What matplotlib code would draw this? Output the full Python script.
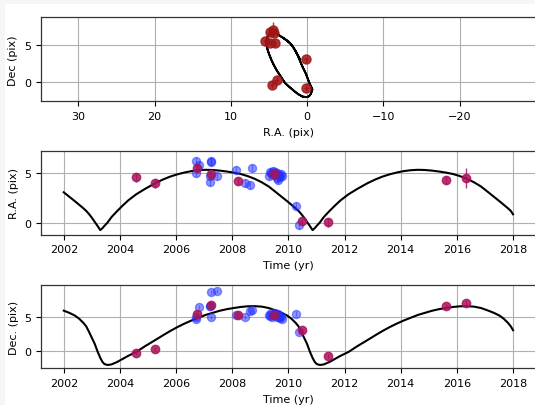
import matplotlib
matplotlib.use("Agg")
import matplotlib.pyplot as plt
from matplotlib.patches import Rectangle

# ---------------- model curve ----------------
model_t = [2002.00, 2002.20, 2002.40, 2002.55, 2002.70, 2002.80, 2002.90, 2003.00, 2003.10, 2003.20,
           2003.30, 2003.38, 2003.45, 2003.56, 2003.70, 2003.90, 2004.10, 2004.30, 2004.58, 2004.90,
           2005.25, 2005.55, 2005.80, 2006.05, 2006.30, 2006.55, 2006.80, 2007.05, 2007.30, 2007.55,
           2007.80, 2008.05, 2008.30, 2008.55, 2008.80, 2009.05, 2009.30,
           2009.56, 2009.76, 2009.96, 2010.11, 2010.26, 2010.36, 2010.46, 2010.56, 2010.66, 2010.76,
           2010.86, 2010.94, 2011.01, 2011.12, 2011.26, 2011.46, 2011.66, 2011.86, 2012.14, 2012.46,
           2012.81, 2013.11, 2013.36, 2013.61, 2013.86, 2014.11, 2014.36, 2014.61, 2014.86, 2015.11,
           2015.36, 2015.61, 2015.86, 2016.11, 2016.36, 2016.61, 2016.86,
           2017.12, 2017.32, 2017.52, 2017.67, 2017.82, 2017.92, 2018.00]
model_ra = [3.10, 2.65, 2.20, 1.85, 1.50, 1.24, 0.92, 0.56, 0.15, -0.25,
            -0.68, -0.48, -0.25, 0.08, 0.62, 1.22, 1.78, 2.30, 2.90, 3.45,
            4.00, 4.40, 4.68, 4.90, 5.08, 5.22, 5.31, 5.35, 5.33, 5.27,
            5.18, 5.07, 4.93, 4.72, 4.45, 4.10, 3.68,
            3.10, 2.65, 2.20, 1.85, 1.50, 1.24, 0.92, 0.56, 0.15, -0.25,
            -0.68, -0.48, -0.25, 0.08, 0.62, 1.22, 1.78, 2.30, 2.90, 3.45,
            4.00, 4.40, 4.68, 4.90, 5.08, 5.22, 5.31, 5.35, 5.33, 5.27,
            5.18, 5.07, 4.93, 4.72, 4.45, 4.10, 3.68,
            3.10, 2.65, 2.20, 1.85, 1.50, 1.24, 0.90]
model_dec = [5.87, 5.55, 5.15, 4.70, 4.10, 3.60, 2.80, 1.95, 1.10, 0.00,
             -0.95, -1.55, -1.85, -1.98, -1.90, -1.55, -1.10, -0.65, -0.10, 0.75,
             1.60, 2.35, 2.95, 3.50, 4.00, 4.45, 4.85, 5.25, 5.55, 5.85,
             6.08, 6.25, 6.40, 6.50, 6.52, 6.45, 6.25,
             5.87, 5.55, 5.15, 4.70, 4.10, 3.60, 2.80, 1.95, 1.10, 0.00,
             -0.95, -1.55, -1.85, -1.98, -1.90, -1.55, -1.10, -0.65, -0.10, 0.75,
             1.60, 2.35, 2.95, 3.50, 4.00, 4.45, 4.85, 5.25, 5.55, 5.85,
             6.08, 6.25, 6.40, 6.50, 6.52, 6.45, 6.25,
             5.87, 5.55, 5.15, 4.70, 4.10, 3.60, 3.05]

# ---------------- observations: set A (red / magenta) ----------------
a_t = [2004.58, 2005.25, 2006.76, 2007.24, 2008.20, 2009.49, 2010.47, 2011.40, 2015.60, 2016.33]
a_ra = [4.60, 4.00, 5.50, 4.90, 4.20, 4.90, 0.20, 0.10, 4.30, 4.50]
a_dec = [-0.30, 0.30, 5.45, 6.65, 5.25, 5.25, 3.05, -0.70, 6.55, 7.00]
a_ra_err = [0.45, 0.45, 0.35, 0.40, 0.40, 0.30, 0.35, 0.45, 0.40, 1.00]
a_dec_err = [0.30, 0.30, 0.30, 0.35, 0.30, 0.30, 0.30, 0.30, 0.30, 0.35]

# ---------------- observations: set B (blue) ----------------
b_t = [2006.70, 2006.72, 2006.80, 2007.20, 2007.22, 2007.24, 2007.26, 2007.46, 2008.15, 2008.47,
       2008.62, 2008.72, 2009.30, 2009.34, 2009.38, 2009.42, 2009.46, 2009.50, 2009.54, 2009.58,
       2009.61, 2009.64, 2009.67, 2009.70, 2009.73, 2009.76, 2010.27, 2010.36]
b_ra = [5.00, 6.25, 5.80, 4.15, 4.75, 6.25, 6.10, 4.75, 5.30, 4.05,
        3.80, 5.50, 4.70, 5.15, 5.05, 4.90, 5.25, 4.80, 5.10, 4.55,
        5.00, 4.35, 4.85, 4.65, 4.90, 4.75, 1.70, -0.15]
b_dec = [4.70, 5.00, 6.45, 6.50, 6.60, 8.50, 5.00, 8.65, 5.20, 5.00,
         5.75, 6.00, 5.30, 5.10, 5.50, 4.95, 5.40, 5.20, 5.60, 4.90,
         5.30, 5.45, 5.00, 4.80, 5.15, 4.70, 5.45, 2.85]
b_ra_err = [0.40] * len(b_t)
b_dec_err = [0.30] * len(b_t)

years = [2002, 2004, 2006, 2008, 2010, 2012, 2014, 2016, 2018]
sky_xticks = [30, 20, 10, 0, -10, -20]
y_ticks = [0, 5]

col_sky = "#a01515"
col_a = "#a8145a"
col_b = "#2030ff"

plt.rcParams["font.family"] = "DejaVu Sans"
plt.rcParams["font.size"] = 8

W, H = 535, 406
fig = plt.figure(figsize=(W / 100, H / 100), dpi=100, facecolor="#f6f6f6")
fig.patches.append(Rectangle((5 / W, 0), 1, (H - 5) / H, transform=fig.transFigure,
                             facecolor="white", edgecolor="none", zorder=-10))

def px_axes(left, top, right, bottom):
    return fig.add_axes([left / W, 1 - bottom / H, (right - left) / W, (bottom - top) / H])

ax1 = px_axes(40.7, 18.3, 535.5, 102.3)
ax2 = px_axes(41.3, 152.3, 535.5, 235.7)
ax3 = px_axes(41.3, 285.7, 535.5, 369.3)

for ax in (ax1, ax2, ax3):
    ax.grid(True, color="#b0b0b0", lw=0.8)
    ax.set_axisbelow(True)
    ax.tick_params(length=3.5, width=0.8, labelsize=8)
    for s in ax.spines.values():
        s.set_color("#333333")
        s.set_linewidth(0.9)

# sky plot
ax1.plot(model_ra, model_dec, color="black", lw=1.4)
ax1.errorbar(a_ra, a_dec, yerr=a_ra_err, xerr=a_dec_err, fmt="o", ms=6.5, color=col_sky,
             ecolor=col_sky, alpha=0.85, elinewidth=1, capsize=0, mec=col_sky)
ax1.set_xlim(34.93, -29.93)
ax1.set_ylim(-2.53, 8.64)
ax1.set_xticks(sky_xticks)
ax1.set_yticks(y_ticks)
ax1.set_xlabel("R.A. (pix)")
ax1.set_ylabel("Dec (pix)")

# RA vs time
ax2.plot(model_t, model_ra, color="black", lw=1.5)
ax2.errorbar(b_t, b_ra, yerr=b_ra_err, fmt="o", ms=5.8, color=col_b, ecolor=col_b,
             alpha=0.5, elinewidth=1, capsize=0)
ax2.errorbar(a_t, a_ra, yerr=a_ra_err, fmt="o", ms=6, color=col_a, ecolor=col_a,
             alpha=0.85, elinewidth=1, capsize=0)
ax2.set_xlim(2001.2, 2018.8)
ax2.set_ylim(-1.14, 7.2)
ax2.set_xticks(years)
ax2.set_yticks(y_ticks)
ax2.set_xlabel("Time (yr)")
ax2.set_ylabel("R.A. (pix)")

# Dec vs time
ax3.plot(model_t, model_dec, color="black", lw=1.5)
ax3.errorbar(b_t, b_dec, yerr=b_dec_err, fmt="o", ms=5.8, color=col_b, ecolor=col_b,
             alpha=0.5, elinewidth=1, capsize=0)
ax3.errorbar(a_t, a_dec, yerr=a_dec_err, fmt="o", ms=6, color=col_a, ecolor=col_a,
             alpha=0.85, elinewidth=1, capsize=0)
ax3.set_xlim(2001.2, 2018.8)
ax3.set_ylim(-2.46, 9.62)
ax3.set_xticks(years)
ax3.set_yticks(y_ticks)
ax3.set_xlabel("Time (yr)")
ax3.set_ylabel("Dec. (pix)")

fig.savefig("out.png", dpi=100, facecolor=fig.get_facecolor())
